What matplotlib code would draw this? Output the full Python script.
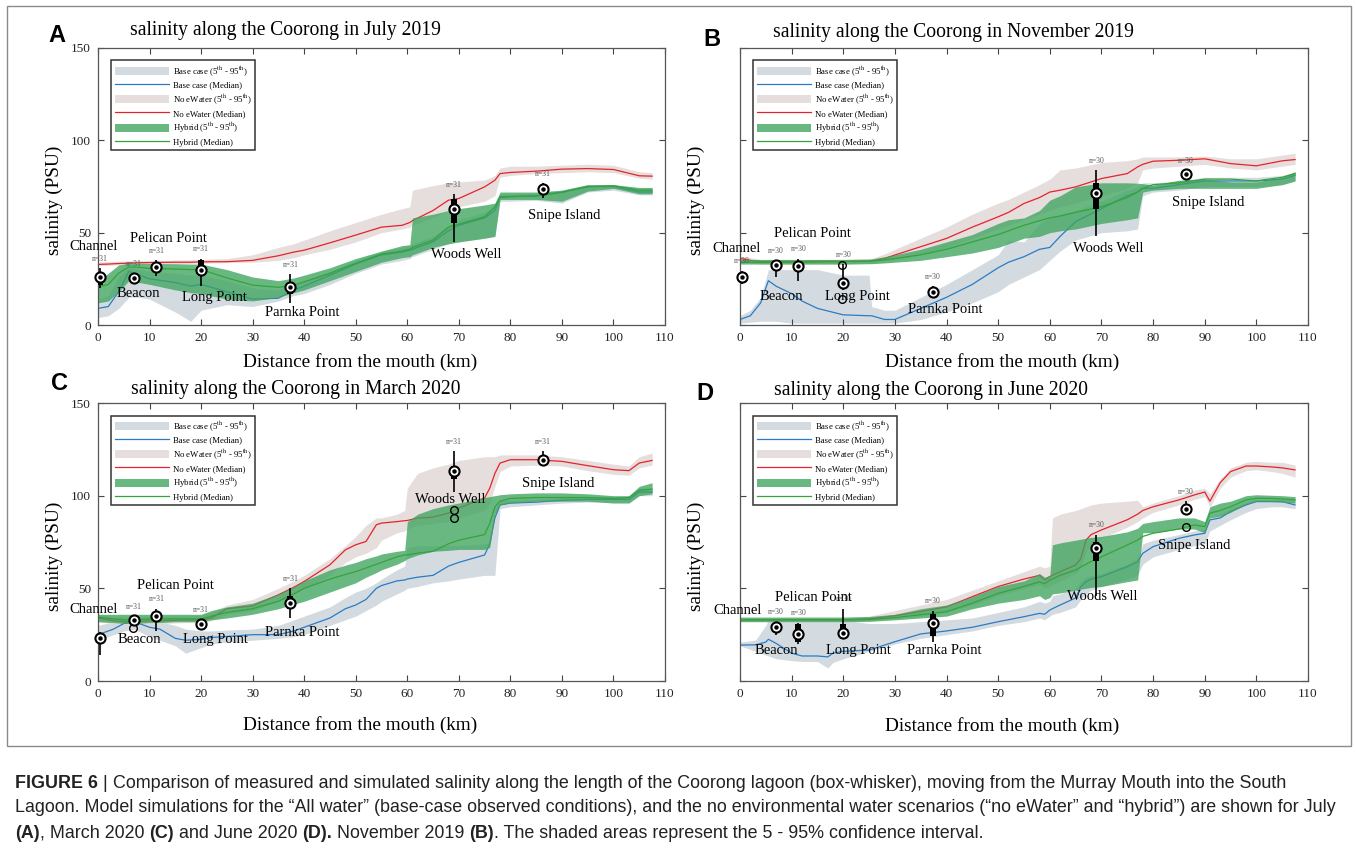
import matplotlib
matplotlib.use('Agg')
import matplotlib.pyplot as plt
import numpy as np
from matplotlib.patches import Patch, Rectangle
from matplotlib.lines import Line2D

plt.rcParams['font.family'] = ['Liberation Serif', 'DejaVu Serif']
plt.rcParams['mathtext.fontset'] = 'stix'

nan = np.nan

# ---------------- data ----------------
station_names = ['Channel', 'Beacon', 'Pelican Point', 'Long Point', 'Parnka Point', 'Woods Well', 'Snipe Island']
station_x = [0.3, 7, 11.3, 20, 37.3, 69, 86.3]
x_ticks = [0, 10, 20, 30, 40, 50, 60, 70, 80, 90, 100, 110]
y_ticks = [0, 50, 100, 150]

# Panel A: July 2019
A_x = [0, 2, 4, 6, 8, 10, 15, 18, 20, 25, 30, 35, 38, 40, 45, 50, 55, 59, 60.5, 61, 65, 68, 70, 75, 77, 78, 80, 85, 90, 95, 100, 105, 107.5]
A_red_med = [32.8, 33, 33.3, 33.5, 33.7, 33.8, 34, 34, 34.2, 34.3, 35, 37.5, 39.5, 40.5, 44.5, 48.7, 53, 54, 55.5, 56.5, 62, 67.6, 68.5, 74.8, 78.4, 82, 82.6, 83.3, 84.4, 84.7, 84.2, 80.8, 80.6]
A_red_hi = [34, 34.3, 34.5, 34.7, 35, 35, 35.2, 35.3, 35.5, 36, 38, 42, 44, 46, 51, 55.5, 60, 63, 64, 73, 75.5, 77, 77.5, 78.5, 81, 85, 86, 86, 86.5, 87, 86.5, 83, 82.5]
A_red_lo = [32, 32.3, 32.5, 32.7, 33, 33, 33.2, 33.3, 33.5, 33.8, 34, 35, 36.5, 38, 41, 45, 50, 52, 53, 54, 58, 62, 64, 67, 70, 80, 81, 82, 82.5, 83, 82.5, 79.5, 79]
A_grn_med = [20.5, 22, 28, 31.5, 31.2, 30.6, 30.3, 30, 30, 25.5, 21.6, 20.4, 21.5, 23.4, 28, 33.4, 38.4, 40, 41, 42, 46, 53, 54.6, 58.6, 64, 69.4, 69.6, 69.8, 71.8, 74.8, 75.4, 73, 73]
A_grn_hi = [24, 28, 32.5, 33.5, 33.5, 33.3, 33.2, 33, 33, 30, 26, 24, 25.5, 27, 31, 36, 40, 43, 43.5, 58, 60, 62, 63, 65, 66, 72, 72, 72, 73, 76, 76, 74.5, 74.5]
A_grn_lo = [12, 13, 18, 24, 23, 22, 19, 17.5, 17, 14, 13, 15, 17.5, 19, 24, 29, 34, 36.5, 37, 38, 42, 44, 45, 47, 48, 68, 68, 68, 67, 72.5, 74, 71, 71]
A_blu_med = [9, 10, 18, 29, 27, 25, 23, 21, 22, 18, 14, 14.5, 19, 21, 27, 33, 38, 39.5, 40.5, 41, 45, 51, 54, 58, 62, 69, 69.5, 70, 72, 75, 75, 72, 72]
A_blu_hi = [14, 16, 26, 31, 30, 29, 28, 27, 27, 24, 20, 19, 22, 24, 29, 35, 40, 42, 43, 44, 48, 54, 57, 61, 64, 71, 71, 71.5, 73, 76, 76, 73.5, 73.5]
A_blu_lo = [4, 5, 9, 15, 15, 14, 7, 2, 8, 11, 10, 13, 16, 17, 22, 28, 33, 35, 36, 37, 41, 44, 45, 47, 48, 67, 67, 67.5, 66, 72, 73, 70.5, 70.5]
A_med = [26, 25.5, 31.5, 30, 20.5, 63, 73.5]
A_q1 = [21.5, 24, 28.5, 26.5, 17, 55, 71]
A_q3 = [28.5, 26.5, 33, 35, 22, 68, 75]
A_wlo = [20, 22, 26.5, 21, 12, 45, 69]
A_whi = [31, 28, 35, 36, 27.5, 71, 77]
A_n = [31, 31, 31, 31, 31, 31, 31]
A_out_x = []
A_out_y = []

# Panel B: November 2019
B_x = [0, 2, 4, 5.5, 7, 10, 12, 15, 20, 25, 25.5, 28, 30, 35, 40, 45, 50, 52, 55, 58, 60, 62, 65, 70, 75, 77, 78, 80, 85, 90, 95, 100, 105, 107.5]
B_red_med = [36, 35, 34.3, 34.3, 34.3, 34.4, 34.4, 34.5, 34.5, 34.6, 34.7, 36, 37.9, 42.4, 46.9, 53, 58.6, 61, 65.8, 69, 72, 73, 74.8, 79.3, 82, 85.6, 87, 88.7, 89.2, 90, 87.4, 86.2, 88.9, 89.6]
B_red_hi = [37, 36.5, 35.5, 35.5, 35.5, 35.5, 35.5, 35.5, 35.5, 35.8, 36, 38.5, 41, 47, 53, 60, 66, 68, 72, 76, 79, 84, 85, 88, 89, 90, 91, 91, 91, 91.5, 90, 90, 92, 93]
B_red_lo = [34, 33.5, 33, 33, 33, 33, 33, 33, 33, 33.2, 33.3, 34, 35, 38, 42, 47, 52, 54, 57, 60, 62, 64, 66, 70, 74, 77, 84, 85, 86, 87, 85, 84, 86, 87]
B_grn_med = [34, 34, 34, 34, 34, 34, 34, 34.2, 34.3, 34.5, 34.5, 35.3, 36, 38, 41, 45, 49, 51, 54, 56.5, 58, 59, 61, 64, 69, 72, 74, 76, 77, 79, 79, 78, 80, 82]
B_grn_hi = [35.5, 35.5, 35.5, 35.5, 35.5, 35.5, 35.5, 35.5, 35.5, 35.7, 35.8, 37, 38, 41, 45, 49, 55, 57, 58, 62, 67.6, 70, 74.8, 77, 77, 76.8, 76.5, 75.7, 78.4, 79, 77.5, 77.5, 80, 83]
B_grn_lo = [33, 33, 33, 33, 33, 33, 33, 33, 33, 33.2, 33.2, 33.6, 34, 35, 37, 39, 42, 44, 47, 48, 50, 51, 52, 55, 57, 58, 72, 73, 74, 74, 74, 74, 76, 78]
B_blu_med = [3, 5, 12, 24, 21, 17, 13, 9, 5.5, 5, 5, 3, 3, 9, 15, 22, 31, 34, 37, 41, 42, 48, 56, 63, 70, 72, 74, 74, 76, 78, 78, 78, 79, 81]
B_blu_hi = [5, 8, 15, 30, 30, 30, 30, 30, 27, 27, 10, 8, 8, 15, 22, 30, 38, 46, 45, 55, 58, 60, 62, 67, 73, 75, 77, 77, 78, 80, 80, 80, 81, 83]
B_blu_lo = [1, 1.5, 2, 2, 2, 1, 1, 1, 1, 1, 1, 1, 1, 3, 7, 12, 18, 22, 26, 30, 35, 40, 46, 50, 51, 52, 70, 72, 73, 75, 75, 75, 76, 78]
B_med = [26, 32.5, 32, 22.5, 18, 71.5, 81.5]
B_q1 = [25, 31, 30.5, 21, 17, 63, 80.5]
B_q3 = [27, 33.5, 33.5, 24, 19, 77, 82.5]
B_wlo = [22, 26, 24, 19, 16, 48, 79]
B_whi = [29.5, 35, 36, 33, 21, 84, 84]
B_n = [30, 30, 30, 30, 30, 30, 30]
B_out_x = [19.8, 19.8]
B_out_y = [32.7, 14]

# Panel C: March 2020
C_x = [0, 3, 5, 7, 10, 12, 15, 17, 20, 22, 25, 30, 35, 38, 40, 45, 48, 50, 52, 54, 55, 58, 59.5, 60, 62, 65, 68, 70, 75, 76, 77, 78, 80, 85, 90, 95, 100, 103, 105, 107.5]
C_red_med = [34, 32.5, 32, 32, 32.5, 32.5, 32.8, 33, 33, 34, 39, 40.5, 46.5, 50.6, 53.7, 62.7, 70.8, 73.5, 75.3, 84.3, 85.2, 86, 86.5, 86.6, 87.9, 88.4, 90.6, 93.3, 98.8, 104, 112, 117.6, 119.4, 119.4, 118.5, 116.2, 114, 113.5, 117.6, 119]
C_red_hi = [36, 35, 35, 35, 35, 35, 35.2, 35.3, 35.5, 37, 41, 44, 50, 54, 57, 66, 73, 78, 84, 88, 88, 90, 92, 104, 112, 115, 117, 119, 121, 121, 121, 122, 122, 122, 121, 119, 117, 116, 121, 123]
C_red_lo = [32, 31, 30.5, 30.5, 31, 31, 31.3, 31.5, 31.5, 32.5, 36, 38, 43, 47, 50, 57, 64, 67, 69, 72, 76, 80, 81, 82, 84, 85, 86, 88, 92, 96, 105, 113, 116, 116.5, 116, 113.5, 111.5, 111, 115, 116.5]
C_grn_med = [34.5, 33.5, 33, 33, 33.5, 33.5, 33.5, 33.5, 33.5, 35, 37, 39, 43, 47, 50, 55, 57.5, 59, 61, 63, 64, 67, 68, 68, 69, 70, 74, 76, 79, 85, 94, 97, 98.5, 99, 99, 99, 98.5, 99, 103, 103.5]
C_grn_hi = [36, 36, 36, 36, 36, 36, 36, 36, 36, 38, 40, 42, 47, 51, 54, 60, 62.5, 64, 66, 67.5, 68.5, 70, 70.5, 86, 90, 93, 95, 96, 99, 99.5, 100, 100.5, 101, 101.5, 101.5, 101, 100, 100, 105, 107]
C_grn_lo = [32, 31.5, 31, 31, 31.5, 31.5, 32, 32, 32, 33, 34, 36, 39, 41.5, 43, 48, 51, 53, 56, 58.5, 60, 63, 65, 66, 68, 70, 70.5, 71, 71, 72, 90, 95, 96, 97, 97, 97, 96, 96, 100, 101]
C_blu_med = [25, 28, 31, 32, 29, 28, 23, 22, 22.5, 23.5, 24, 25, 25, 27, 29, 34, 39, 41, 44, 50, 51.5, 54, 54.5, 55, 56, 57, 62, 64, 68, 74, 88, 95, 96, 96.5, 97.5, 98, 98, 98, 102, 102]
C_blu_hi = [30, 32, 33, 33.5, 33, 32, 30, 28, 27, 27, 27.5, 28, 30, 33, 35, 40, 45, 48, 50, 53, 55, 60, 62, 72, 73, 73, 73, 73, 74, 75, 93, 97, 97.5, 98, 99, 99.5, 99.5, 99.5, 104, 104]
C_blu_lo = [22, 25, 27, 28, 24, 22, 19, 15, 18, 20, 21, 22, 23, 24, 25, 30, 33, 35, 38, 41, 43, 47, 49, 50, 51, 53, 54, 55, 57, 57, 57, 93, 94, 95, 96, 96.5, 96.5, 96.5, 100, 100]
C_med = [23, 33, 35, 31, 42, 113.5, 119]
C_q1 = [22, 32, 34, 30, 39, 109, 118]
C_q3 = [25.5, 34, 36, 32, 46, 116, 120]
C_wlo = [14, 31.5, 27, 29, 34, 102, 117]
C_whi = [26.5, 35, 39, 33.5, 50, 124, 124]
C_n = [None, 31, 31, 31, 31, 31, 31]
C_out_x = [6.7, 69, 69]
C_out_y = [28.8, 92.5, 88]

# Panel D: June 2020
D_x = [0, 3, 5, 5.5, 7, 10, 12, 15, 17, 18, 20, 25, 30, 35, 40, 45, 50, 55, 58, 59, 60, 60.5, 62, 65, 66, 67, 68, 70, 75, 77, 78, 80, 85, 88, 90, 91, 93, 95, 98, 100, 103, 105, 107.5]
D_red_med = [33, 33, 33, 33, 33, 33, 33, 33, 33, 33, 33, 33.5, 35.2, 37.5, 40, 45.5, 51, 55, 57, 54.5, 56.3, 57, 59, 62.6, 66, 76, 79, 81.5, 87, 90, 92, 94, 97.7, 100.4, 102, 97, 107, 113, 116, 116, 115.5, 115, 113.9]
D_red_hi = [34, 34, 34, 34, 34, 34, 34, 34, 34, 34, 34, 35, 38, 41, 44, 49, 54, 59, 62, 61, 62, 88, 90, 92, 93, 94, 95, 96, 97, 97.5, 94, 96, 100, 103, 104, 101, 109, 115, 118, 118.5, 118, 118, 116.5]
D_red_lo = [32, 32, 32, 32, 32, 32, 32, 32, 32, 32, 32, 32.3, 33.5, 35, 37, 41, 46, 50, 52, 50, 51, 52, 54, 58, 61, 70, 74, 77, 83, 86, 88, 91, 95, 98, 99.5, 94, 104, 110, 113.5, 114, 113, 112, 110]
D_grn_med = [33, 33, 33, 33, 33, 33, 33, 33, 33, 33, 33, 33.2, 34.2, 35.8, 37.4, 42, 47.3, 51, 53.5, 52.5, 54.5, 55, 57, 59.9, 61.5, 63, 64.5, 67, 73.4, 76, 78, 79.7, 82, 84.2, 83.3, 90.6, 92, 94, 97.7, 98.6, 98.5, 98.2, 97.7]
D_grn_hi = [34.5, 34.5, 34.5, 34.5, 34.5, 34.5, 34.5, 34.5, 34.5, 34.5, 34.5, 34.8, 36, 39, 41, 45.5, 51, 54, 58, 56, 57, 73.5, 74.5, 76, 76.5, 77, 77.5, 78, 80.5, 82.4, 85, 86, 88, 88, 86, 94, 96, 97, 100, 100.5, 100.2, 100, 99.5]
D_grn_lo = [32, 32, 32, 32, 32, 32, 32, 32, 32, 32, 32, 32.2, 33, 34, 35, 39, 42, 44, 46, 44, 45, 47, 47.5, 49, 49.5, 50, 50.5, 51, 53.6, 54.5, 80, 80, 82, 82, 80, 88, 89, 91, 95.5, 97, 96.8, 96.5, 96]
D_blu_med = [19.4, 19.5, 21, 22.5, 20.3, 15, 13.5, 13.5, 13, 15, 16, 16.7, 21.2, 25.4, 27, 29, 32, 34.7, 36.5, 36, 38.3, 39, 41, 44.8, 50.9, 53.6, 55, 56.3, 61.7, 64.4, 68.9, 72.5, 77, 78.8, 79.7, 86.9, 88, 91.4, 95, 96.8, 96.8, 96.8, 95]
D_blu_hi = [21, 22, 30, 33, 33, 33, 33, 33, 33, 33, 33, 31, 31, 32, 33, 34, 37, 40, 43, 42, 43, 46, 47, 50, 54, 56, 57, 58, 63, 66, 74, 76, 79, 81, 82, 88, 90, 93, 96.5, 98, 98, 98, 97]
D_blu_lo = [19, 16, 14, 13.5, 12, 11, 10.5, 10.5, 7, 10, 12, 16, 20, 23, 25, 27, 30, 32, 34, 33, 35, 36, 37, 40, 44, 47, 49, 51, 55, 57, 63, 67, 71, 73, 74, 81, 84, 87, 91, 93, 94, 94, 93]
D_med = [nan, 29, 25.5, 26, 31.5, 72, 93]
D_q1 = [nan, 28, 21, 26.5, 24.5, 65, 92]
D_q3 = [nan, 30, 30.5, 31, 36, 75, 94.5]
D_wlo = [nan, 25, 20, 25, 21, 46, 90]
D_whi = [nan, 32, 31.5, 39, 38, 79, 97]
D_n = [None, 30, 30, 30, 30, 30, 30]
D_out_x = [86.3]
D_out_y = [83]

# ---------------- styling / layout ----------------
W, H = 1356, 851
C_BLUE_BAND = '#d3dbe1'
C_RED_BAND = '#e5dedc'
C_GRN_BAND = '#3fa45f'
GRN_ALPHA = 0.78
C_BLUE = '#2b7bc4'
C_RED = '#e8222a'
C_GRN = '#34a43a'

fig = plt.figure(figsize=(W / 100, H / 100), dpi=100)


def add_axes_px(l, t, r, b):
    return fig.add_axes([l / W, 1 - b / H, (r - l) / W, (b - t) / H])


panels = [
    dict(box=(98, 48, 665, 325), letter='A', lxy=(57, 36), title='salinity along the Coorong in July 2019',
         txy=(130, 31), xlab_y=-0.134, ylab=True,
         x=A_x, bl=A_blu_lo, bh=A_blu_hi, bm=A_blu_med, rl=A_red_lo, rh=A_red_hi, rm=A_red_med,
         gl=A_grn_lo, gh=A_grn_hi, gm=A_grn_med,
         med=A_med, q1=A_q1, q3=A_q3, wlo=A_wlo, whi=A_whi, n=A_n, ox=A_out_x, oy=A_out_y,
         labels=[(-0.9, 42.7), (7.8, 17), (13.7, 46.9), (22.6, 15), (39.6, 6.9), (71.5, 38.4), (90.5, 59.5)]),
    dict(box=(740, 48, 1308, 325), letter='B', lxy=(712, 40), title='salinity along the Coorong in November 2019',
         txy=(773, 33), xlab_y=-0.134, ylab=False,
         x=B_x, bl=B_blu_lo, bh=B_blu_hi, bm=B_blu_med, rl=B_red_lo, rh=B_red_hi, rm=B_red_med,
         gl=B_grn_lo, gh=B_grn_hi, gm=B_grn_med,
         med=B_med, q1=B_q1, q3=B_q3, wlo=B_wlo, whi=B_whi, n=B_n, ox=B_out_x, oy=B_out_y,
         labels=[(-0.7, 41.5), (8.1, 15.3), (14, 49.6), (22.7, 15.3), (39.8, 8.5), (71.4, 41.5), (90.6, 66.2)]),
    dict(box=(98, 403, 665, 681), letter='C', lxy=(60, 383), title='salinity along the Coorong in March 2020',
         txy=(131, 389), xlab_y=-0.158, ylab=True,
         x=C_x, bl=C_blu_lo, bh=C_blu_hi, bm=C_blu_med, rl=C_red_lo, rh=C_red_hi, rm=C_red_med,
         gl=C_grn_lo, gh=C_grn_hi, gm=C_grn_med,
         med=C_med, q1=C_q1, q3=C_q3, wlo=C_wlo, whi=C_whi, n=C_n, ox=C_out_x, oy=C_out_y,
         labels=[(-0.8, 38.7), (8.0, 22.2), (15, 51.3), (22.8, 22.2), (39.7, 26.1), (68.3, 98.1), (89.2, 106.8)]),
    dict(box=(740, 403, 1308, 681), letter='D', lxy=(705, 394), title='salinity along the Coorong in June 2020',
         txy=(774, 390), xlab_y=-0.161, ylab=False,
         x=D_x, bl=D_blu_lo, bh=D_blu_hi, bm=D_blu_med, rl=D_red_lo, rh=D_red_hi, rm=D_red_med,
         gl=D_grn_lo, gh=D_grn_hi, gm=D_grn_med,
         med=D_med, q1=D_q1, q3=D_q3, wlo=D_wlo, whi=D_whi, n=D_n, ox=D_out_x, oy=D_out_y,
         labels=[(-0.5, 37.9), (7.0, 16.7), (14.2, 45.1), (22.9, 16.7), (39.6, 16.7), (70.1, 45.4), (87.9, 73.3)]),
]

leg_labels = [r'Base case (5$^{\rm th}$ - 95$^{\rm th}$)', 'Base case (Median)',
              r'No eWater (5$^{\rm th}$ - 95$^{\rm th}$)', 'No eWater (Median)',
              r'Hybrid (5$^{\rm th}$ - 95$^{\rm th}$)', 'Hybrid (Median)']

for p in panels:
    ax = add_axes_px(*p['box'])
    x = np.array(p['x'])
    ax.fill_between(x, p['bl'], p['bh'], color=C_BLUE_BAND, lw=0, zorder=1)
    ax.fill_between(x, p['rl'], p['rh'], color=C_RED_BAND, lw=0, zorder=1.2)
    ax.plot(x, p['bm'], color=C_BLUE, lw=0.9, zorder=1.5)
    ax.plot(x, p['rm'], color=C_RED, lw=0.9, zorder=1.6)
    ax.fill_between(x, p['gl'], p['gh'], color=C_GRN_BAND, alpha=GRN_ALPHA, lw=0, zorder=2)
    ax.plot(x, p['gm'], color=C_GRN, lw=0.9, zorder=2.5)

    sx = np.array(station_x)
    med = np.array(p['med'], dtype=float)
    q1 = np.array(p['q1'], dtype=float)
    q3 = np.array(p['q3'], dtype=float)
    ok = ~np.isnan(med)
    ax.vlines(sx[ok], np.array(p['wlo'])[ok], np.array(p['whi'])[ok], color='black', lw=1.2, zorder=5)
    ax.bar(sx[ok], (q3 - q1)[ok], bottom=q1[ok], width=1.2, color='black', zorder=5.5)
    ax.plot(p['ox'], p['oy'], 'o', ms=5.5, mfc='none', mec='black', mew=1.0, zorder=6, clip_on=False)
    ax.plot(sx[ok], med[ok], 'o', ms=7.3, mfc='white', mec='black', mew=1.5, zorder=6, clip_on=False)
    ax.plot(sx[ok], med[ok], 'o', ms=2.2, color='black', zorder=7, clip_on=False)
    for i, nv in enumerate(p['n']):
        if nv is not None and ok[i]:
            ax.text(sx[i], p['whi'][i] + 5, f'n={nv}', ha='center', va='center', fontsize=5.5,
                    color='#555555', zorder=8, clip_on=False)
    for name, (lx, ly) in zip(station_names, p['labels']):
        ax.text(lx, ly, name, ha='center', va='center', fontsize=10.5, zorder=9, clip_on=False)

    ax.set_xlim(0, 110)
    ax.set_ylim(0, 150)
    ax.set_xticks(x_ticks)
    ax.set_yticks(y_ticks)
    if not p['ylab']:
        ax.set_yticklabels([])
    ax.tick_params(direction='in', top=True, right=True, length=4, width=0.8, labelsize=9.5,
                   pad=5, color='#444444', labelcolor='#222222')
    for s in ax.spines.values():
        s.set_color('#555555')
        s.set_linewidth(0.9)
    ax.set_xlabel('Distance from the mouth (km)', fontsize=13.9)
    ax.xaxis.label.set_va('center')
    ax.xaxis.set_label_coords(0.462, p['xlab_y'])
    ax.set_ylabel('salinity (PSU)', fontsize=13.9)
    ax.yaxis.label.set_va('center')
    ax.yaxis.set_label_coords(-0.077, 0.45)

    handles = [Patch(facecolor=C_BLUE_BAND, edgecolor='none'), Line2D([], [], color=C_BLUE, lw=0.9),
               Patch(facecolor=C_RED_BAND, edgecolor='none'), Line2D([], [], color=C_RED, lw=0.9),
               Patch(facecolor=C_GRN_BAND, alpha=GRN_ALPHA, edgecolor='none'), Line2D([], [], color=C_GRN, lw=0.9)]
    leg = ax.legend(handles, leg_labels, loc='upper left', bbox_to_anchor=(0.023, 0.955), borderaxespad=0,
                    fontsize=6.3, handlelength=6.2, handleheight=1.0, labelspacing=0.33, handletextpad=0.5,
                    borderpad=0.4, fancybox=False, framealpha=1, edgecolor='#333333')
    leg.get_frame().set_linewidth(1.1)
    leg.set_zorder(10)

    fig.text(p['txy'][0] / W, 1 - p['txy'][1] / H, p['title'], fontsize=14.1, ha='left', va='center')
    fig.text(p['lxy'][0] / W, 1 - p['lxy'][1] / H, p['letter'], fontsize=17, fontweight='bold',
             family=['Liberation Sans', 'DejaVu Sans'], ha='center', va='center')

# outer frame
fig.add_artist(Rectangle((7 / W, 1 - 746 / H), (1351 - 7) / W, (746 - 6) / H, transform=fig.transFigure,
                         fill=False, edgecolor='#8a8a8a', lw=1.0))

# caption with mixed bold
cap_fs = 12.9
cap_lines = [
    (783, [('FIGURE 6', True), ('|', False), ('Comparison of measured and simulated salinity along the length of the Coorong lagoon (box-whisker), moving from the Murray Mouth into the South', False)]),
    (808, [('Lagoon. Model simulations for the \u201cAll water\u201d (base-case observed conditions), and the no environmental water scenarios (\u201cno eWater\u201d and \u201chybrid\u201d) are shown for July', False)]),
    (833, [('(A)', True), (', March 2020', False), ('(C)', True), ('and June 2020', False), ('(D).', True),
           ('November 2019', False), ('(B)', True), ('. The shaded areas represent the 5 - 95% confidence interval.', False)]),
]
renderer = fig.canvas.get_renderer()
space_px = cap_fs * 100 / 72 * 0.278
for ly, segs in cap_lines:
    xp = 15
    for i, (s, b) in enumerate(segs):
        if i > 0 and not s.startswith(',') and not s.startswith('.'):
            xp += space_px
        t = fig.text(xp / W, 1 - ly / H, s, fontsize=cap_fs, fontweight='bold' if b else 'normal',
                     family=['Liberation Sans', 'DejaVu Sans'], ha='left', va='center', color='#222222')
        bb = t.get_window_extent(renderer)
        xp += bb.width

fig.savefig('out.png', dpi=100)
